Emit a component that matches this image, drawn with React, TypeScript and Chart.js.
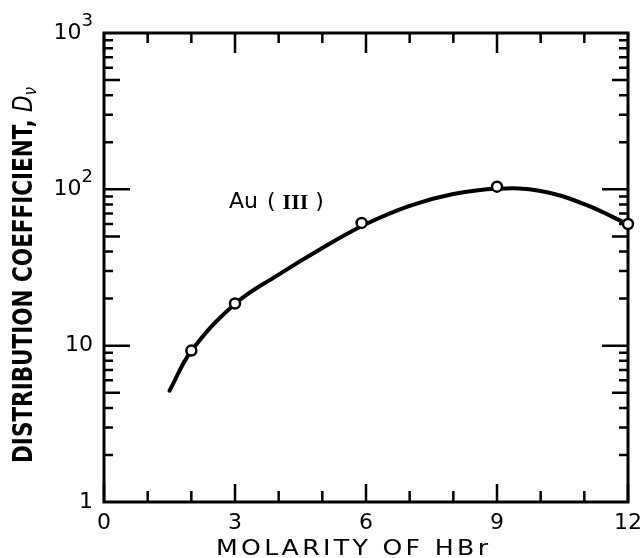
import { useEffect, useRef } from "react";
import { Chart, registerables } from "chart.js";

Chart.register(...registerables);

// Smooth fitted curve through the Au(III) distribution data (molarity, D)
const curveMolarity = [1.5, 2, 3, 4, 5, 6, 7, 8, 9, 10, 11, 12];
const curveD = [5.15, 9.25, 18.5, 28.5, 42.2, 60, 78.5, 93.3, 101, 97.7, 80.4, 59.7];

// Measured points (open circles)
const pointMolarity = [2, 3, 5.9, 9, 12];
const pointD = [9.3, 18.6, 61, 104, 60];

// Axis ticks and labels
const xMajorTicks = [0, 3, 6, 9, 12];
const xTickLabels = ["0", "3", "6", "9", "12"];
const xMinorTicks = [1, 2, 4, 5, 7, 8, 10, 11];
const yDecades = [1, 10, 100, 1000];
const yDecadeBase = ["1", "10", "10", "10"];
const yDecadeExp = ["", "", "2", "3"];

const X_TITLE = "MOLARITY OF HBr";
const Y_TITLE = "DISTRIBUTION COEFFICIENT, ";
const SERIES_NAME = "Au";
const SERIES_STATE = "III";

const INK = "#000";

const framePlugin = {
  id: "frame",
  beforeDatasetsDraw(chart: any) {
    const { ctx, chartArea } = chart;
    const { left, right, top, bottom } = chartArea;
    const xs = chart.scales.x;
    const ys = chart.scales.y;
    ctx.save();
    ctx.strokeStyle = INK;
    ctx.fillStyle = INK;
    ctx.lineCap = "butt";

    // frame
    ctx.lineWidth = 3;
    ctx.strokeRect(left, top, right - left, bottom - top);

    // x ticks (inward, bottom and top)
    ctx.lineWidth = 2.5;
    const xTick = (v: number, lb: number, lt: number) => {
      const px = xs.getPixelForValue(v);
      ctx.beginPath();
      ctx.moveTo(px, bottom);
      ctx.lineTo(px, bottom - lb);
      ctx.moveTo(px, top);
      ctx.lineTo(px, top + lt);
      ctx.stroke();
    };
    xMajorTicks.forEach((v) => xTick(v, 18, 20));
    xMinorTicks.forEach((v) => xTick(v, 11, 10));

    // y ticks (inward, left and right)
    const yTick = (v: number, len: number) => {
      const py = ys.getPixelForValue(v);
      ctx.beginPath();
      ctx.moveTo(left, py);
      ctx.lineTo(left + len, py);
      ctx.moveTo(right, py);
      ctx.lineTo(right - len, py);
      ctx.stroke();
    };
    for (let d = 0; d < yDecades.length - 1; d++) {
      const base = yDecades[d];
      if (d > 0) yTick(base, 26);
      for (let k = 2; k <= 9; k++) yTick(base * k, k === 5 ? 16 : 9);
    }

    // x tick labels
    ctx.font = "22px 'DejaVu Sans'";
    ctx.textAlign = "center";
    ctx.textBaseline = "middle";
    xMajorTicks.forEach((v, i) => {
      ctx.fillText(xTickLabels[i], xs.getPixelForValue(v), bottom + 21);
    });

    // y tick labels with superscript exponents
    yDecades.forEach((v, i) => {
      const py = ys.getPixelForValue(v);
      const baseFont = "22px 'DejaVu Sans'";
      const expFont = "18px 'DejaVu Sans'";
      ctx.font = expFont;
      const ew = yDecadeExp[i] ? ctx.measureText(yDecadeExp[i]).width : 0;
      const rightEdge = left - 11;
      ctx.textAlign = "right";
      ctx.textBaseline = "middle";
      if (yDecadeExp[i]) {
        ctx.fillText(yDecadeExp[i], rightEdge, py - 12);
      }
      ctx.font = baseFont;
      ctx.fillText(yDecadeBase[i], rightEdge - ew, py);
    });

    // x axis title: widened letters with extra spacing
    {
      ctx.save();
      ctx.font = "21px 'DejaVu Sans'";
      ctx.textAlign = "left";
      ctx.textBaseline = "middle";
      const stretch = 1.2;
      const chars = X_TITLE.split("");
      const widths = chars.map((c) => ctx.measureText(c).width * stretch);
      const raw = widths.reduce((a, b) => a + b, 0);
      const target = 272;
      const gap = (target - raw) / (chars.length - 1);
      let x = (left + right) / 2 - 14 - target / 2;
      chars.forEach((c, i) => {
        ctx.save();
        ctx.translate(x, bottom + 48);
        ctx.scale(stretch, 1);
        ctx.fillText(c, 0, 0);
        ctx.restore();
        x += widths[i] + gap;
      });
      ctx.restore();
    }

    // y axis title, rotated, condensed to fit
    {
      ctx.save();
      const cx = 25;
      const cy = 275;
      const mainFont = "bold 26px 'DejaVu Sans'";
      const dFont = "italic 26px 'DejaVu Sans'";
      const subFont = "italic 18px 'DejaVu Sans'";
      ctx.font = mainFont;
      const w1 = ctx.measureText(Y_TITLE).width;
      ctx.font = dFont;
      const w2 = ctx.measureText("D").width;
      ctx.font = subFont;
      const w3 = ctx.measureText("\u03bd").width;
      const total = w1 + w2 + w3;
      const s = 376 / total;
      ctx.translate(cx, cy);
      ctx.rotate(-Math.PI / 2);
      ctx.scale(s, 1);
      ctx.textAlign = "left";
      ctx.textBaseline = "middle";
      let x = -total / 2;
      ctx.font = mainFont;
      ctx.fillText(Y_TITLE, x, 0);
      x += w1;
      ctx.font = dFont;
      ctx.fillText("D", x, 0);
      x += w2;
      ctx.font = subFont;
      ctx.fillText("\u03bd", x, 6);
      ctx.restore();
    }

    // series label: Au ( III )
    {
      ctx.textAlign = "left";
      ctx.textBaseline = "middle";
      const y = 202;
      let x = 229;
      ctx.font = "22px 'DejaVu Sans'";
      ctx.fillText(SERIES_NAME, x, y);
      x += ctx.measureText(SERIES_NAME).width + 9;
      ctx.fillText("(", x, y);
      x += ctx.measureText("(").width + 7;
      ctx.font = "bold 22px 'Liberation Serif'";
      ctx.fillText(SERIES_STATE, x, y + 1);
      x += ctx.measureText(SERIES_STATE).width + 7;
      ctx.font = "22px 'DejaVu Sans'";
      ctx.fillText(")", x, y);
    }

    ctx.restore();
  },
};

export default function App() {
  const ref = useRef<HTMLCanvasElement | null>(null);

  useEffect(() => {
    document.body.style.margin = "0";
    const canvas = ref.current;
    if (!canvas) return;
    const chart = new Chart(canvas, {
      type: "scatter",
      data: {
        datasets: [
          {
            label: "points",
            data: pointMolarity.map((x, i) => ({ x, y: pointD[i] })),
            showLine: false,
            pointRadius: 5,
            pointBorderWidth: 2.5,
            pointBackgroundColor: "#fff",
            pointBorderColor: INK,
            clip: false as any,
            order: 0,
          },
          {
            label: "curve",
            data: curveMolarity.map((x, i) => ({ x, y: curveD[i] })),
            showLine: true,
            borderColor: INK,
            borderWidth: 4,
            pointRadius: 0,
            tension: 0.4,
            borderCapStyle: "round",
            clip: false as any,
            order: 1,
          },
        ],
      },
      options: {
        responsive: false,
        animation: false,
        events: [],
        layout: { padding: { left: 104, right: 16, top: 33, bottom: 56 } },
        plugins: {
          legend: { display: false },
          tooltip: { enabled: false },
          title: { display: false },
        },
        scales: {
          x: { type: "linear", min: 0, max: 12, display: false },
          y: { type: "logarithmic", min: 1, max: 1000, display: false },
        },
      },
      plugins: [framePlugin],
    });
    return () => chart.destroy();
  }, []);

  return <canvas ref={ref} width={644} height={558} style={{ display: "block" }} />;
}
